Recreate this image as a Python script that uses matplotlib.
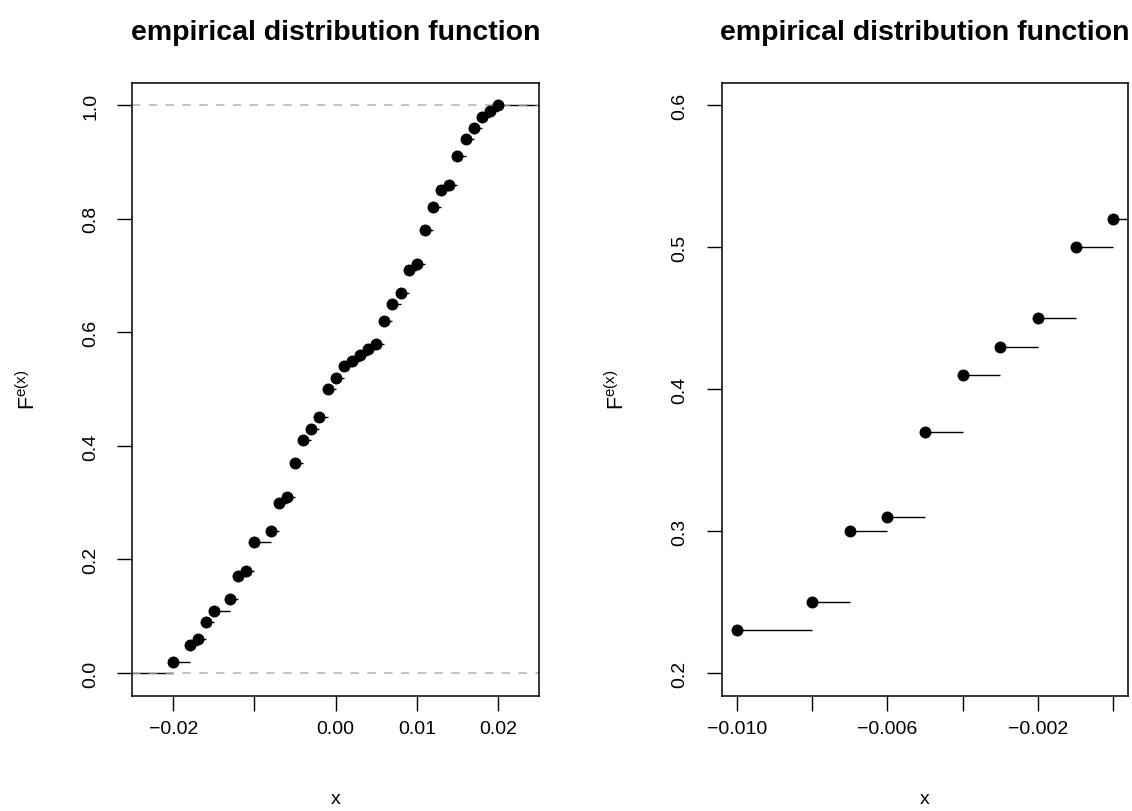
import matplotlib
matplotlib.use('Agg')
import matplotlib.pyplot as plt

plt.rcParams['font.family'] = ['Liberation Sans', 'DejaVu Sans']
plt.rcParams['mathtext.fontset'] = 'custom'
plt.rcParams['mathtext.rm'] = 'Liberation Sans'
plt.rcParams['mathtext.it'] = 'Liberation Sans:italic'

# ecdf knots (unique sorted values) and F at each knot
x_vals = [-0.020, -0.018, -0.017, -0.016, -0.015, -0.013, -0.012, -0.011,
          -0.010, -0.008, -0.007, -0.006, -0.005, -0.004, -0.003, -0.002,
          -0.001, 0.000, 0.001, 0.002, 0.003, 0.004, 0.005, 0.006, 0.007,
          0.008, 0.009, 0.010, 0.011, 0.012, 0.013, 0.014, 0.015, 0.016,
          0.017, 0.018, 0.019, 0.020]
F_vals = [0.02, 0.05, 0.06, 0.09, 0.11, 0.13, 0.17, 0.18,
          0.23, 0.25, 0.30, 0.31, 0.37, 0.41, 0.43, 0.45,
          0.50, 0.52, 0.54, 0.55, 0.56, 0.57, 0.58, 0.62, 0.65,
          0.67, 0.71, 0.72, 0.78, 0.82, 0.85, 0.86, 0.91, 0.94,
          0.96, 0.98, 0.99, 1.00]

left_xticks = [-0.02, -0.01, 0.00, 0.01, 0.02]
left_xlabels = ['\u22120.02', '', '0.00', '0.01', '0.02']
left_yticks = [0.0, 0.2, 0.4, 0.6, 0.8, 1.0]
left_ylabels = ['0.0', '0.2', '0.4', '0.6', '0.8', '1.0']

right_xticks = [-0.010, -0.008, -0.006, -0.004, -0.002, 0.000]
right_xlabels = ['\u22120.010', '', '\u22120.006', '', '\u22120.002', '']
right_yticks = [0.2, 0.3, 0.4, 0.5, 0.6]
right_ylabels = ['0.2', '0.3', '0.4', '0.5', '0.6']

title = 'empirical distribution function'
W, H = 1132, 812

fig = plt.figure(figsize=(W / 100, H / 100), dpi=100)


def r_lim(lo, hi):
    d = (hi - lo) * 0.04
    return lo - d, hi + d


def ecdf_panel(rect, xlim, ylim, xticks, xlabels, yticks, ylabels):
    x0, y0, x1, y1 = rect
    ax = fig.add_axes([x0 / W, 1 - y1 / H, (x1 - x0) / W, (y1 - y0) / H])
    # horizontal steps
    lefts = [x_vals[0] - 1] + x_vals
    rights = x_vals + [x_vals[-1] + 1]
    levels = [0.0] + F_vals
    ax.hlines(levels, lefts, rights, colors='black', lw=1.0, zorder=1)
    for h in (0, 1):
        ax.axhline(h, color='#b3b3b3', lw=1.1, ls=(0, (5.5, 5.5)), zorder=2)
    ax.plot(x_vals, F_vals, 'o', color='black', ms=8.6, mew=0, zorder=3)
    ax.set_xlim(*r_lim(*xlim))
    ax.set_ylim(*r_lim(*ylim))
    ax.set_xticks(xticks)
    ax.set_xticklabels(xlabels)
    ax.set_yticks(yticks)
    ax.set_yticklabels(ylabels, rotation=90, va='center')
    ax.tick_params(direction='out', length=10.8, width=1.0, labelsize=14,
                   color='black')
    ax.tick_params(axis='x', pad=7)
    ax.tick_params(axis='y', pad=13)
    for s in ax.spines.values():
        s.set_linewidth(1.1)
    cx = (x0 + x1) / 2
    fig.text(cx / W, 1 - 33 / H, title, ha='center', va='center',
             fontsize=20.5, fontweight='bold')
    fig.text(cx / W, 1 - 800 / H, 'x', ha='center', va='center', fontsize=14)
    fig.text((x0 - 104) / W, 1 - ((y0 + y1) / 2) / H,
             r'$\mathrm{F}^{\mathrm{e(x)}}$', rotation=90,
             ha='center', va='center', fontsize=15.5)
    return ax


ecdf_panel((132.3, 83.5, 539.0, 696.7), (-0.0232, 0.0232), (0.0, 1.0),
           left_xticks, left_xlabels, left_yticks, left_ylabels)
ecdf_panel((721.7, 83.5, 1128.3, 696.7), (-0.010, 0.000), (0.2, 0.6),
           right_xticks, right_xlabels, right_yticks, right_ylabels)

fig.savefig('out.png', dpi=100)
